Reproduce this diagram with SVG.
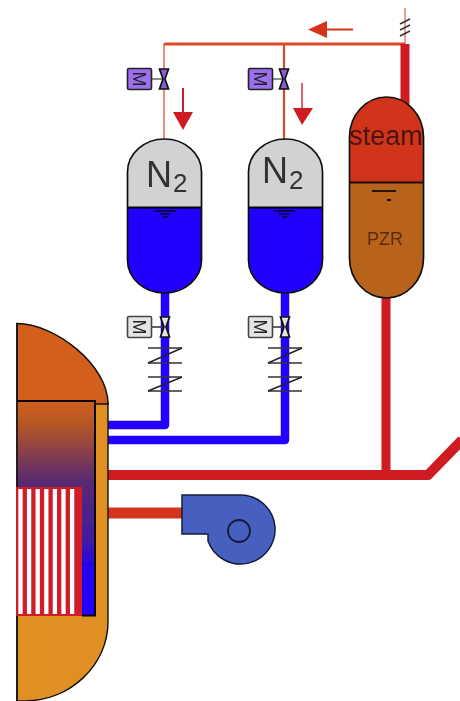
<svg xmlns="http://www.w3.org/2000/svg" width="460" height="701" viewBox="0 0 460 701">
<defs>
<linearGradient id="core" x1="0" y1="0" x2="0" y2="1"><stop offset="0" stop-color="#cf5f1e"/><stop offset="0.1" stop-color="#b85822"/><stop offset="0.37" stop-color="#5a2a70"/><stop offset="0.65" stop-color="#401ca0"/><stop offset="0.78" stop-color="#2000f0"/><stop offset="1" stop-color="#2200ff"/></linearGradient>
<filter id="soft" x="-2%" y="-2%" width="104%" height="104%"><feGaussianBlur stdDeviation="0.55"/></filter>
<g id="zig"><path class="zigl" d="M-17,0H17M-17,15H17M-17,29H17M-17,43H17"/><path class="zigd" d="M17,0L-17,15M17,29L-17,43"/></g>
<g id="valve"><path d="M-4.500,-10H4.500L1,0L4.500,10H-4.500L-1,0Z" class="vf"/></g>
</defs>
<style>
.txt{font-family:"Liberation Sans",Arial,sans-serif}
.tank{stroke:#111;stroke-width:1.700}
.pipe{fill:none;stroke-linejoin:round}
.zigl{fill:none;stroke:#333;stroke-width:1.400}
.zigd{fill:none;stroke:#222;stroke-width:1.400}
.vf{stroke:#111;stroke-width:1.700}
.m{font-family:"Liberation Sans",Arial,sans-serif;font-size:18px;text-anchor:middle;fill:#222}
</style>
<rect width="460" height="701" fill="#fff"/>
<g filter="url(#soft)">
<g id="connectors">
<path class="pipe" d="M405,8V44" stroke="#eaa090" stroke-width="2"/>
<path class="pipe" d="M164,139V44" stroke="#e8907a" stroke-width="2"/>
<path class="pipe" d="M284,44V139" stroke="#d9482c" stroke-width="2.200"/>
<path class="pipe" d="M164,44H405" stroke="#d9482c" stroke-width="3"/>
<path class="pipe" d="M405,44V110" stroke="#cf1a20" stroke-width="9"/>
<path d="M400,24L410,19M400,30L410,25M400,36L410,31" stroke="#333" stroke-width="1.500" fill="none"/>
<path class="pipe" d="M165,293V425H108" stroke="#2200ff" stroke-width="8.500"/>
<path class="pipe" d="M285,293V440H108" stroke="#2200ff" stroke-width="8.500"/>
<path class="pipe" d="M386,296V475" stroke="#cf1a20" stroke-width="9"/>
<path class="pipe" d="M108,475H428L462,440" stroke="#cf1a20" stroke-width="10"/>
<path class="pipe" d="M108,513H184" stroke="#d4351c" stroke-width="11"/>
<path d="M353,29.500H325" stroke="#d4351c" stroke-width="2"/>
<path d="M308,29.500L327,21V38Z" fill="#d4351c"/>
<path d="M183,88V115" stroke="#cf1a20" stroke-width="2"/>
<path d="M173,112H193L183,130Z" fill="#cf1a20"/>
<path d="M302,83V110" stroke="#e0606a" stroke-width="2"/>
<path d="M293,108H313L302,125Z" fill="#cf1a20"/>
<use href="#zig" x="165" y="348"/>
<use href="#zig" x="285" y="348"/>
</g>
<g id="valve-n2-1">
<path d="M151,79H164" stroke="#666" stroke-width="1.500"/>
<rect x="127.500" y="68.500" width="24" height="21" rx="1.500" fill="#9a70ee" stroke="#222" stroke-width="1.600"/>
<text class="m" transform="translate(133,79) rotate(90)">M</text>
<use href="#valve" x="164" y="79" fill="#8a5cd8"/>
</g>
<g id="valve-n2-2">
<path d="M272,79H284" stroke="#666" stroke-width="1.500"/>
<rect x="248.500" y="68.500" width="24" height="21" rx="1.500" fill="#9a70ee" stroke="#222" stroke-width="1.600"/>
<text class="m" transform="translate(254,79) rotate(90)">M</text>
<use href="#valve" x="284" y="79" fill="#8a5cd8"/>
</g>
<g id="valve-in-1">
<path d="M151,327H164" stroke="#333" stroke-width="1.500"/>
<rect x="127.500" y="316.500" width="24" height="21" rx="1.500" fill="#e4e4e4" stroke="#444" stroke-width="1.600"/>
<text class="m" transform="translate(133,327) rotate(90)">M</text>
<use href="#valve" x="165" y="327" fill="#e4e4e4"/>
</g>
<g id="valve-in-2">
<path d="M272,327H285" stroke="#333" stroke-width="1.500"/>
<rect x="248.500" y="316.500" width="24" height="21" rx="1.500" fill="#e4e4e4" stroke="#444" stroke-width="1.600"/>
<text class="m" transform="translate(254,327) rotate(90)">M</text>
<use href="#valve" x="285" y="327" fill="#e4e4e4"/>
</g>
<g id="tank-1">
<path d="M127.500,207V172A37,33 0 0 1 201.500,172V207Z" fill="#d2d2d2"/>
<path d="M127.500,207V260A37,33 0 0 0 201.500,260V207Z" fill="#2200ff"/>
<path class="tank" fill="none" d="M127.500,172A37,33 0 0 1 201.500,172V260A37,33 0 0 1 127.500,260Z"/>
<path d="M127.500,207.500H201.500" stroke="#000" stroke-width="1.800"/>
<path d="M155,211H176M160,214H171M163,217H168" stroke="#002" stroke-width="1.400"/>
<text class="txt" x="146" y="187" font-size="36" fill="#333">N</text>
<text class="txt" x="173" y="192" font-size="26" fill="#333">2</text>
</g>
<g id="tank-2">
<path d="M248.500,207V172A37,33 0 0 1 322.500,172V207Z" fill="#d2d2d2"/>
<path d="M248.500,207V260A37,33 0 0 0 322.500,260V207Z" fill="#2200ff"/>
<path class="tank" fill="none" d="M248.500,172A37,33 0 0 1 322.500,172V260A37,33 0 0 1 248.500,260Z"/>
<path d="M248.500,207.500H322.500" stroke="#000" stroke-width="1.800"/>
<path d="M274,211H295M279,214H290M282,217H287" stroke="#002" stroke-width="1.400"/>
<text class="txt" x="262" y="183" font-size="36" fill="#333">N</text>
<text class="txt" x="289" y="189" font-size="26" fill="#333">2</text>
</g>
<g id="pzr">
<path d="M349.500,182V137A37,40 0 0 1 423.500,137V182Z" fill="#d0341c"/>
<path d="M349.500,182V258A37,40 0 0 0 423.500,258V182Z" fill="#b8641e"/>
<path class="tank" fill="none" d="M349.500,137A37,40 0 0 1 423.500,137V258A37,40 0 0 1 349.500,258Z"/>
<path d="M349.500,182.500H423.500" stroke="#1a0a04" stroke-width="1.800"/>
<path d="M372,191H396" stroke="#1a0a04" stroke-width="1.800"/>
<path d="M387,200H391" stroke="#1a0a04" stroke-width="2.200"/>
<text class="txt" x="386" y="145" font-size="27" text-anchor="middle" fill="#4a1410">steam</text>
<text class="txt" x="385" y="245" font-size="18" text-anchor="middle" fill="#5a2c10">PZR</text>
</g>
<g id="vessel">
<path d="M17,403V701H25C70,701 108,665 108,622V403Z" fill="#e09022" stroke="#111" stroke-width="1.400"/>
<path d="M17,323.500C55,323.500 108,365 108,404H95V401H17Z" fill="#d2601e" stroke="#111" stroke-width="1.500"/>
<rect x="17" y="401" width="78" height="214.500" fill="url(#core)"/>
<path d="M17,401H95V615.500H82" fill="none" stroke="#0a0503" stroke-width="2"/>
<path d="M17,323V701" stroke="#111" stroke-width="1.500"/>
</g>
<g id="core-rods">
<rect x="16" y="487" width="66" height="129" fill="#cf1a28"/>
<path d="M20.500,489V614M29.100,489V614M37.700,489V614M46.300,489V614M54.900,489V614M63.500,489V614M72.100,489V614" stroke="#fff" stroke-width="4.300"/>
</g>
<g id="pump">
<path d="M182,495H240.500A34.500,34.500 0 1 1 208,541V534H182Z" fill="#4660c0" stroke="#141c38" stroke-width="1.500"/>
<circle cx="239" cy="531" r="11" fill="#4660c0" stroke="#141c38" stroke-width="1.800"/>
</g>
</g>
</svg>
